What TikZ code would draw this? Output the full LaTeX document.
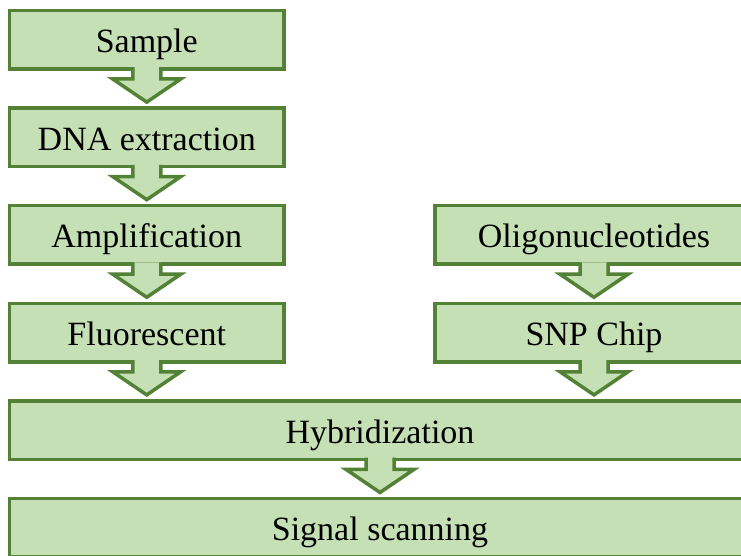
\documentclass[tikz,border=0pt]{standalone}
\usepackage{fontspec}
\setmainfont{LiberationSerif}[Extension=.ttf, UprightFont=*-Regular]
\usetikzlibrary{calc}
\definecolor{boxfill}{HTML}{C5E0B4}
\definecolor{boxline}{HTML}{538135}
\tikzset{
  box/.style={draw=boxline, fill=boxfill, line width=3.5pt, outer sep=0pt, inner sep=0pt,
    minimum height=58.5pt, text height=33pt, text depth=7pt, font=\rmfamily\fontsize{34}{40}\selectfont},
  flowline/.style={draw=boxline, fill=boxfill, line width=3.5pt, miter limit=10}
}
\newcommand{\flowarrow}[2]{%
  \path (#1.south) coordinate (fs) (#1.south |- #2.north) coordinate (ft);
  \filldraw[flowline] ($(fs)+(-14,1.75)$) -- ($(fs)+(-14,-10)$) -- ($(fs)+(-34,-10)$)
    -- ($(ft)+(0,6)$) -- ($(fs)+(34,-10)$) -- ($(fs)+(14,-10)$) -- ($(fs)+(14,1.75)$);
}
\begin{document}
\begin{tikzpicture}[x=1pt, y=1pt]
\useasboundingbox (0,0) rectangle (741,556);
\clip (0,0) rectangle (741,556);
\node[box, minimum width=274.5pt] (L1) at (146.75,516.25) {Sample};
\node[box, minimum width=274.5pt] (L2) at (146.75,418.65) {DNA extraction};
\node[box, minimum width=274.5pt] (L3) at (146.75,321.05) {Amplification};
\node[box, minimum width=274.5pt] (L4) at (146.75,223.45) {Fluorescent};
\node[box, minimum width=318pt] (R1) at (594,321.05) {Oligonucleotides};
\node[box, minimum width=318pt] (R2) at (594,223.45) {SNP Chip};
\node[box, minimum width=741pt] (M1) at (380,125.85) {Hybridization};
\node[box, minimum width=741pt] (M2) at (380,28.25) {Signal scanning};

\flowarrow{L1}{L2}
\flowarrow{L2}{L3}
\flowarrow{L3}{L4}
\flowarrow{L4}{M1}
\flowarrow{R1}{R2}
\flowarrow{R2}{M1}
\flowarrow{M1}{M2}
\end{tikzpicture}
\end{document}
